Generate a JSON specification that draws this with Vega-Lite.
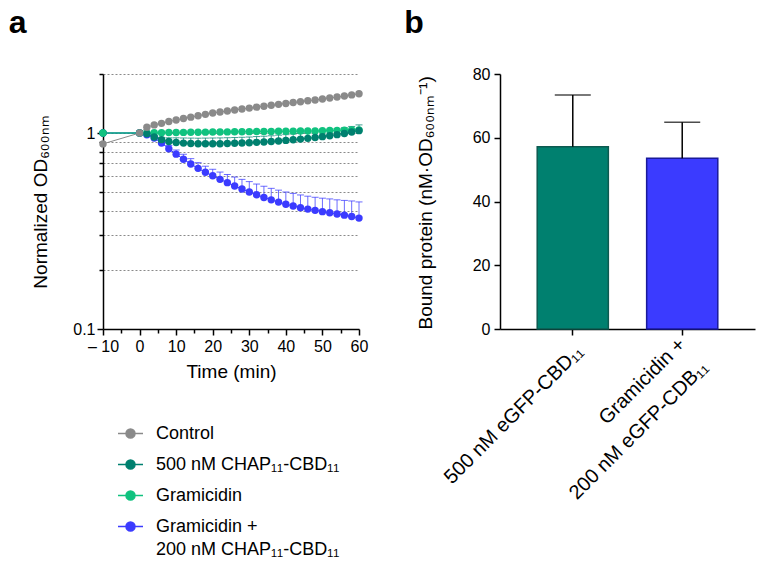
{
  "$schema": "https://vega.github.io/schema/vega-lite/v6.json",
  "padding": {"left": 8, "top": 7, "right": 5, "bottom": 5},
  "config": {
    "font": "Liberation Sans",
    "view": {"stroke": null},
    "concat": {"spacing": 36},
    "axis": {
      "domainColor": "black", "domainWidth": 1.5,
      "tickColor": "black", "tickWidth": 1.5, "tickSize": 6,
      "labelColor": "black", "labelFont": "Liberation Sans", "labelFontSize": 16,
      "titleColor": "black", "titleFont": "Liberation Sans", "titleFontSize": 19, "titleFontWeight": "normal",
      "grid": false
    },
    "title": {"font": "Liberation Sans", "fontSize": 32, "fontWeight": "bold", "color": "black", "anchor": "start"}
  },
  "datasets": {
    "curves": [
      {"s": "Gramicidin +|200 nM CHAP₁₁-CBD₁₁", "t": -10, "v": 1.0},
      {"s": "Gramicidin +|200 nM CHAP₁₁-CBD₁₁", "t": 0, "v": 1.0},
      {"s": "Gramicidin +|200 nM CHAP₁₁-CBD₁₁", "t": 2, "v": 0.98},
      {"s": "Gramicidin +|200 nM CHAP₁₁-CBD₁₁", "t": 4, "v": 0.943, "hi": 0.962},
      {"s": "Gramicidin +|200 nM CHAP₁₁-CBD₁₁", "t": 6, "v": 0.89, "hi": 0.917},
      {"s": "Gramicidin +|200 nM CHAP₁₁-CBD₁₁", "t": 8, "v": 0.83, "hi": 0.863},
      {"s": "Gramicidin +|200 nM CHAP₁₁-CBD₁₁", "t": 10, "v": 0.78, "hi": 0.819},
      {"s": "Gramicidin +|200 nM CHAP₁₁-CBD₁₁", "t": 12, "v": 0.735, "hi": 0.779},
      {"s": "Gramicidin +|200 nM CHAP₁₁-CBD₁₁", "t": 14, "v": 0.695, "hi": 0.74},
      {"s": "Gramicidin +|200 nM CHAP₁₁-CBD₁₁", "t": 16, "v": 0.66, "hi": 0.706},
      {"s": "Gramicidin +|200 nM CHAP₁₁-CBD₁₁", "t": 18, "v": 0.63, "hi": 0.677},
      {"s": "Gramicidin +|200 nM CHAP₁₁-CBD₁₁", "t": 20, "v": 0.605, "hi": 0.653},
      {"s": "Gramicidin +|200 nM CHAP₁₁-CBD₁₁", "t": 22, "v": 0.58, "hi": 0.632},
      {"s": "Gramicidin +|200 nM CHAP₁₁-CBD₁₁", "t": 24, "v": 0.558, "hi": 0.614},
      {"s": "Gramicidin +|200 nM CHAP₁₁-CBD₁₁", "t": 26, "v": 0.537, "hi": 0.596},
      {"s": "Gramicidin +|200 nM CHAP₁₁-CBD₁₁", "t": 28, "v": 0.518, "hi": 0.58},
      {"s": "Gramicidin +|200 nM CHAP₁₁-CBD₁₁", "t": 30, "v": 0.5, "hi": 0.565},
      {"s": "Gramicidin +|200 nM CHAP₁₁-CBD₁₁", "t": 32, "v": 0.484, "hi": 0.549},
      {"s": "Gramicidin +|200 nM CHAP₁₁-CBD₁₁", "t": 34, "v": 0.469, "hi": 0.535},
      {"s": "Gramicidin +|200 nM CHAP₁₁-CBD₁₁", "t": 36, "v": 0.456, "hi": 0.522},
      {"s": "Gramicidin +|200 nM CHAP₁₁-CBD₁₁", "t": 38, "v": 0.444, "hi": 0.511},
      {"s": "Gramicidin +|200 nM CHAP₁₁-CBD₁₁", "t": 40, "v": 0.433, "hi": 0.5},
      {"s": "Gramicidin +|200 nM CHAP₁₁-CBD₁₁", "t": 42, "v": 0.424, "hi": 0.492},
      {"s": "Gramicidin +|200 nM CHAP₁₁-CBD₁₁", "t": 44, "v": 0.416, "hi": 0.483},
      {"s": "Gramicidin +|200 nM CHAP₁₁-CBD₁₁", "t": 46, "v": 0.409, "hi": 0.476},
      {"s": "Gramicidin +|200 nM CHAP₁₁-CBD₁₁", "t": 48, "v": 0.403, "hi": 0.47},
      {"s": "Gramicidin +|200 nM CHAP₁₁-CBD₁₁", "t": 50, "v": 0.397, "hi": 0.465},
      {"s": "Gramicidin +|200 nM CHAP₁₁-CBD₁₁", "t": 52, "v": 0.392, "hi": 0.461},
      {"s": "Gramicidin +|200 nM CHAP₁₁-CBD₁₁", "t": 54, "v": 0.386, "hi": 0.456},
      {"s": "Gramicidin +|200 nM CHAP₁₁-CBD₁₁", "t": 56, "v": 0.381, "hi": 0.453},
      {"s": "Gramicidin +|200 nM CHAP₁₁-CBD₁₁", "t": 58, "v": 0.375, "hi": 0.45},
      {"s": "Gramicidin +|200 nM CHAP₁₁-CBD₁₁", "t": 60, "v": 0.368, "hi": 0.445},
      {"s": "500 nM CHAP₁₁-CBD₁₁", "t": -10, "v": 1.0},
      {"s": "Gramicidin", "t": -10, "v": 1.0},
      {"s": "Gramicidin", "t": 0, "v": 1.0},
      {"s": "Gramicidin", "t": 2, "v": 1.0},
      {"s": "Gramicidin", "t": 4, "v": 1.002},
      {"s": "Gramicidin", "t": 6, "v": 1.004},
      {"s": "Gramicidin", "t": 8, "v": 1.005},
      {"s": "Gramicidin", "t": 10, "v": 1.006},
      {"s": "Gramicidin", "t": 12, "v": 1.007},
      {"s": "Gramicidin", "t": 14, "v": 1.008},
      {"s": "Gramicidin", "t": 16, "v": 1.009},
      {"s": "Gramicidin", "t": 18, "v": 1.01},
      {"s": "Gramicidin", "t": 20, "v": 1.011},
      {"s": "Gramicidin", "t": 22, "v": 1.012},
      {"s": "Gramicidin", "t": 24, "v": 1.013},
      {"s": "Gramicidin", "t": 26, "v": 1.014},
      {"s": "Gramicidin", "t": 28, "v": 1.015},
      {"s": "Gramicidin", "t": 30, "v": 1.016},
      {"s": "Gramicidin", "t": 32, "v": 1.017},
      {"s": "Gramicidin", "t": 34, "v": 1.018},
      {"s": "Gramicidin", "t": 36, "v": 1.019},
      {"s": "Gramicidin", "t": 38, "v": 1.02},
      {"s": "Gramicidin", "t": 40, "v": 1.021},
      {"s": "Gramicidin", "t": 42, "v": 1.022},
      {"s": "Gramicidin", "t": 44, "v": 1.023},
      {"s": "Gramicidin", "t": 46, "v": 1.024},
      {"s": "Gramicidin", "t": 48, "v": 1.025},
      {"s": "Gramicidin", "t": 50, "v": 1.027},
      {"s": "Gramicidin", "t": 52, "v": 1.029},
      {"s": "Gramicidin", "t": 54, "v": 1.031},
      {"s": "Gramicidin", "t": 56, "v": 1.033},
      {"s": "Gramicidin", "t": 58, "v": 1.035},
      {"s": "Gramicidin", "t": 60, "v": 1.037},
      {"s": "500 nM CHAP₁₁-CBD₁₁", "t": 0, "v": 1.0},
      {"s": "500 nM CHAP₁₁-CBD₁₁", "t": 2, "v": 0.99, "hi": 0.995},
      {"s": "500 nM CHAP₁₁-CBD₁₁", "t": 4, "v": 0.955, "hi": 0.97},
      {"s": "500 nM CHAP₁₁-CBD₁₁", "t": 6, "v": 0.925, "hi": 0.95},
      {"s": "500 nM CHAP₁₁-CBD₁₁", "t": 8, "v": 0.905, "hi": 0.945},
      {"s": "500 nM CHAP₁₁-CBD₁₁", "t": 10, "v": 0.895, "hi": 0.945},
      {"s": "500 nM CHAP₁₁-CBD₁₁", "t": 12, "v": 0.888, "hi": 0.943},
      {"s": "500 nM CHAP₁₁-CBD₁₁", "t": 14, "v": 0.884, "hi": 0.942},
      {"s": "500 nM CHAP₁₁-CBD₁₁", "t": 16, "v": 0.882, "hi": 0.941},
      {"s": "500 nM CHAP₁₁-CBD₁₁", "t": 18, "v": 0.881, "hi": 0.942},
      {"s": "500 nM CHAP₁₁-CBD₁₁", "t": 20, "v": 0.881, "hi": 0.943},
      {"s": "500 nM CHAP₁₁-CBD₁₁", "t": 22, "v": 0.882, "hi": 0.944},
      {"s": "500 nM CHAP₁₁-CBD₁₁", "t": 24, "v": 0.884, "hi": 0.946},
      {"s": "500 nM CHAP₁₁-CBD₁₁", "t": 26, "v": 0.886, "hi": 0.948},
      {"s": "500 nM CHAP₁₁-CBD₁₁", "t": 28, "v": 0.889, "hi": 0.951},
      {"s": "500 nM CHAP₁₁-CBD₁₁", "t": 30, "v": 0.892, "hi": 0.954},
      {"s": "500 nM CHAP₁₁-CBD₁₁", "t": 32, "v": 0.896, "hi": 0.959},
      {"s": "500 nM CHAP₁₁-CBD₁₁", "t": 34, "v": 0.9, "hi": 0.963},
      {"s": "500 nM CHAP₁₁-CBD₁₁", "t": 36, "v": 0.905, "hi": 0.968},
      {"s": "500 nM CHAP₁₁-CBD₁₁", "t": 38, "v": 0.911, "hi": 0.975},
      {"s": "500 nM CHAP₁₁-CBD₁₁", "t": 40, "v": 0.917, "hi": 0.981},
      {"s": "500 nM CHAP₁₁-CBD₁₁", "t": 42, "v": 0.924, "hi": 0.989},
      {"s": "500 nM CHAP₁₁-CBD₁₁", "t": 44, "v": 0.931, "hi": 0.996},
      {"s": "500 nM CHAP₁₁-CBD₁₁", "t": 46, "v": 0.939, "hi": 1.005},
      {"s": "500 nM CHAP₁₁-CBD₁₁", "t": 48, "v": 0.948, "hi": 1.014},
      {"s": "500 nM CHAP₁₁-CBD₁₁", "t": 50, "v": 0.958, "hi": 1.025},
      {"s": "500 nM CHAP₁₁-CBD₁₁", "t": 52, "v": 0.969, "hi": 1.037},
      {"s": "500 nM CHAP₁₁-CBD₁₁", "t": 54, "v": 0.981, "hi": 1.05},
      {"s": "500 nM CHAP₁₁-CBD₁₁", "t": 56, "v": 0.994, "hi": 1.064},
      {"s": "500 nM CHAP₁₁-CBD₁₁", "t": 58, "v": 1.012, "hi": 1.08},
      {"s": "500 nM CHAP₁₁-CBD₁₁", "t": 60, "v": 1.028, "hi": 1.1},
      {"s": "Control", "t": -10, "v": 0.88},
      {"s": "Control", "t": 0, "v": 1.0},
      {"s": "Control", "t": 2, "v": 1.07},
      {"s": "Control", "t": 4, "v": 1.1},
      {"s": "Control", "t": 6, "v": 1.12},
      {"s": "Control", "t": 8, "v": 1.145},
      {"s": "Control", "t": 10, "v": 1.165},
      {"s": "Control", "t": 12, "v": 1.185},
      {"s": "Control", "t": 14, "v": 1.205},
      {"s": "Control", "t": 16, "v": 1.225},
      {"s": "Control", "t": 18, "v": 1.245},
      {"s": "Control", "t": 20, "v": 1.265},
      {"s": "Control", "t": 22, "v": 1.28},
      {"s": "Control", "t": 24, "v": 1.295},
      {"s": "Control", "t": 26, "v": 1.31},
      {"s": "Control", "t": 28, "v": 1.325},
      {"s": "Control", "t": 30, "v": 1.34},
      {"s": "Control", "t": 32, "v": 1.355},
      {"s": "Control", "t": 34, "v": 1.37},
      {"s": "Control", "t": 36, "v": 1.385},
      {"s": "Control", "t": 38, "v": 1.4},
      {"s": "Control", "t": 40, "v": 1.415},
      {"s": "Control", "t": 42, "v": 1.43},
      {"s": "Control", "t": 44, "v": 1.445},
      {"s": "Control", "t": 46, "v": 1.46},
      {"s": "Control", "t": 48, "v": 1.475},
      {"s": "Control", "t": 50, "v": 1.49},
      {"s": "Control", "t": 52, "v": 1.51},
      {"s": "Control", "t": 54, "v": 1.525},
      {"s": "Control", "t": 56, "v": 1.545},
      {"s": "Control", "t": 58, "v": 1.565},
      {"s": "Control", "t": 60, "v": 1.585}
    ],
    "bars": [
      {"c": "500 nM eGFP-CBD₁₁", "v": 57.2, "hi": 73.4},
      {"c": "Gramicidin +|200 nM eGFP-CDB₁₁", "v": 53.6, "hi": 64.9}
    ]
  },
  "hconcat": [
    {
      "width": 256,
      "height": 255,
      "title": {"text": "a", "offset": 33, "dx": -23},
      "data": {"name": "curves"},
      "encoding": {
        "x": {
          "field": "t", "type": "quantitative",
          "scale": {"domain": [-10, 60], "nice": false},
          "axis": {
            "title": "Time (min)",
            "values": [-10, -5, 0, 5, 10, 15, 20, 25, 30, 35, 40, 45, 50, 55, 60],
            "labelExpr": "datum.value % 10 === 0 ? (datum.value < 0 ? '– ' + abs(datum.value) : '' + datum.value) : ''",
            "tickSize": {"condition": {"test": "datum.value % 10 === 0", "value": 6}, "value": 4},
            "labelFlush": false,
            "labelPadding": 3,
            "titlePadding": 8
          }
        },
        "y": {
          "field": "v", "type": "quantitative",
          "scale": {"type": "log", "domain": [0.1, 2], "nice": false},
          "axis": {
            "title": "Normalized  OD₆₀₀ₙₘ",
            "values": [0.1, 0.2, 0.3, 0.4, 0.5, 0.6, 0.7, 0.8, 0.9, 1, 2],
            "labelExpr": "datum.value === 1 ? '1' : datum.value === 0.1 ? '0.1' : ''",
            "tickSize": {"condition": {"test": "datum.value === 1 || datum.value === 0.1", "value": 6}, "value": 4},
            "grid": true,
            "gridColor": "#8a8a8a",
            "gridDash": [2, 2],
            "gridWidth": 1,
            "gridOpacity": {"condition": {"test": "datum.value === 0.1", "value": 0}, "value": 1},
            "titlePadding": 22
          }
        },
        "color": {
          "field": "s", "type": "nominal",
          "scale": {
            "domain": ["Control", "500 nM CHAP₁₁-CBD₁₁", "Gramicidin", "Gramicidin +|200 nM CHAP₁₁-CBD₁₁"],
            "range": ["#8a8a8a", "#00806f", "#10c27f", "#3b3bff"]
          },
          "legend": {
            "title": null,
            "orient": "none",
            "legendX": 14,
            "legendY": 346,
            "symbolType": "M-1,0L1,0M0.36,0A0.36,0.36 0 1,1 -0.36,0A0.36,0.36 0 1,1 0.36,0Z",
            "symbolSize": 625,
            "symbolStrokeWidth": 1.5,
            "symbolOpacity": 1,
            "labelFont": "Liberation Sans",
            "labelFontSize": 18,
            "labelColor": "black",
            "labelLimit": 400,
            "labelOffset": 12,
            "labelBaseline": "top",
            "rowPadding": 8,
            "labelExpr": "split(datum.label, '|')",
            "encode": {
              "symbols": {"update": {"fill": {"scale": "color", "field": "value"}, "stroke": {"scale": "color", "field": "value"}}},
              "labels": {"update": {"dy": {"value": -9}, "lineHeight": {"value": 23}}}
            }
          }
        }
      },
      "layer": [
        {
          "transform": [{"filter": "isValid(datum.hi)"}],
          "mark": {"type": "rule", "strokeWidth": 1, "opacity": 0.75},
          "encoding": {"y2": {"field": "hi"}}
        },
        {
          "transform": [{"filter": "isValid(datum.hi)"}],
          "mark": {"type": "tick", "orient": "horizontal", "size": 7, "thickness": 1, "opacity": 0.75},
          "encoding": {"y": {"field": "hi", "type": "quantitative"}}
        },
        {
          "mark": {"type": "line", "strokeWidth": 1}
        },
        {
          "mark": {"type": "point", "filled": true, "size": 55, "opacity": 1}
        }
      ]
    },
    {
      "width": 255,
      "height": 255,
      "title": {"text": "b", "offset": 26, "dx": -12},
      "data": {"name": "bars"},
      "encoding": {
        "x": {
          "field": "c", "type": "nominal", "sort": null,
          "scale": {"paddingInner": 0.35, "paddingOuter": 0.34},
          "axis": {
            "title": null,
            "labelAngle": -45,
            "labelAlign": "right",
            "labelBaseline": {"condition": {"test": "indexof(datum.value, '|') >= 0", "value": "middle"}, "value": "top"},
            "labelFontSize": 20,
            "labelLimit": 400,
            "labelPadding": 6,
            "labelLineHeight": 32,
            "labelExpr": "split(datum.label, '|')"
          }
        }
      },
      "layer": [
        {
          "mark": {"type": "bar", "strokeWidth": 1.5},
          "encoding": {
            "y": {
              "field": "v", "type": "quantitative",
              "scale": {"domain": [0, 80], "nice": false},
              "axis": {"title": "Bound protein (nM·OD₆₀₀ₙₘ⁻¹)", "values": [0, 20, 40, 60, 80], "titleAnchor": "start", "titlePadding": 37, "labelPadding": 4}
            },
            "fill": {
              "field": "c", "type": "nominal", "legend": null,
              "scale": {"domain": ["500 nM eGFP-CBD₁₁", "Gramicidin +|200 nM eGFP-CDB₁₁"], "range": ["#00806f", "#3b3bff"]}
            },
            "stroke": {
              "field": "c", "type": "nominal", "legend": null,
              "scale": {"domain": ["500 nM eGFP-CBD₁₁", "Gramicidin +|200 nM eGFP-CDB₁₁"], "range": ["#0d5a50", "#1a1a9a"]}
            }
          }
        },
        {
          "mark": {"type": "rule", "strokeWidth": 1.5, "color": "black"},
          "encoding": {
            "y": {"field": "v", "type": "quantitative", "title": "Bound protein (nM·OD₆₀₀ₙₘ⁻¹)"},
            "y2": {"field": "hi"}
          }
        },
        {
          "mark": {"type": "tick", "orient": "horizontal", "size": 36, "thickness": 1.5, "color": "black"},
          "encoding": {
            "y": {"field": "hi", "type": "quantitative", "title": "Bound protein (nM·OD₆₀₀ₙₘ⁻¹)"}
          }
        }
      ]
    }
  ]
}
